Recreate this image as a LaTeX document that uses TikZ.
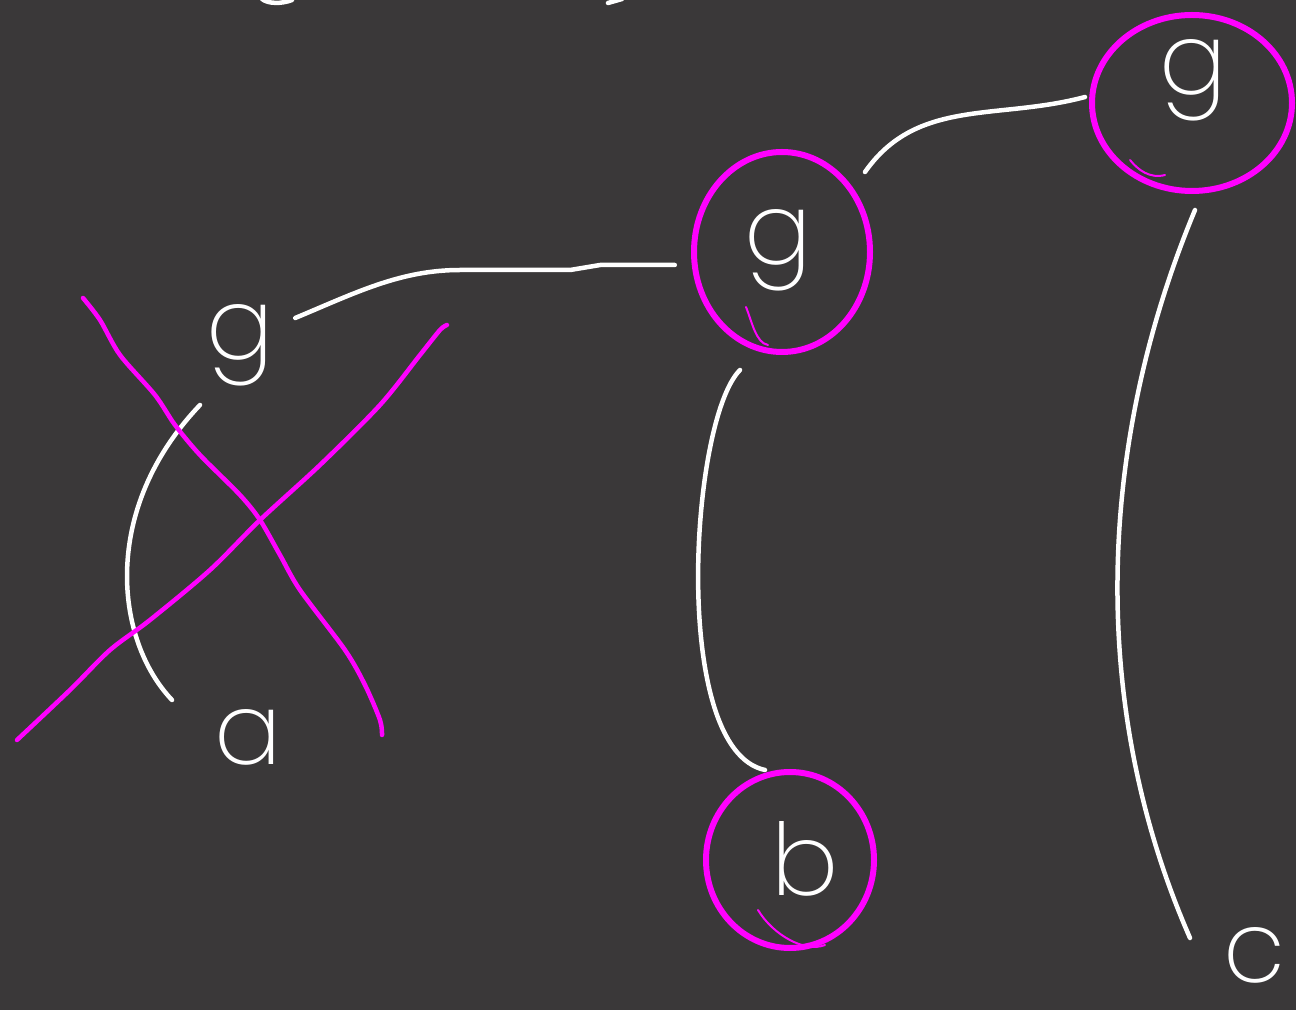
\documentclass[tikz,border=0pt]{standalone}
\usepackage{fontspec}
\setmainfont{Poppins}[UprightFont=* ExtraLight]
\usetikzlibrary{calc}
\definecolor{board}{HTML}{3A3839}
\definecolor{marker}{HTML}{FF00FF}
\tikzset{
  letter/.style={text=white, font=\fontsize{100}{100}\selectfont, inner sep=0pt,
    text height=60pt, text depth=20pt, minimum width=70pt},
  link/.style={draw=white, line width=4.5pt, line cap=round, line join=round},
  ring/.style={draw=marker, line width=6pt},
  hook/.style={draw=marker, line width=2pt, line cap=round},
  strike/.style={draw=marker, line width=4.5pt, line cap=round, line join=round},
}

\begin{document}
\begin{tikzpicture}[x=1pt, y=1pt]
  \fill[board] (0,0) rectangle (1296,1010);
  \useasboundingbox (0,0) rectangle (1296,1010);

  % letters
  \node[letter] (g1) at (240,670) {g};
  \node[letter] (g2) at (778,765) {g};
  \node[letter] (g3) at (1193,935) {g};
  \node[letter] (a) at (248,265) {a};
  \node[letter] (b) at (805,135) {b};
  \node[letter, text height=50pt, text depth=10pt] (c) at (1255,48) {c};

  % links
  \draw[link] ([shift={(20,22)}]g1.east) .. controls +(60,25) and +(-60,0) .. ++(165,48)
    -- ++(110,0) -- ++(30,5) -- ([shift={(-68,-20)}]g2.west);
  \draw[link] ([shift={(87,73)}]g2.center) to[out=55, in=195] ([shift={(-108,-22)}]g3.center);
  \draw[link] ([shift={(-38,-125)}]g2.center) .. controls +(-50,-50) and +(-95,20) .. ([shift={(-40,105)}]b.center);
  \draw[link] ([shift={(2,-135)}]g3.center) .. controls +(-100,-240) and +(-100,228) .. ([shift={(-65,24)}]c.center);
  \draw[link] ([shift={(-40,-65)}]g1.center) .. controls +(-100,-105) and +(-57,60) .. ([shift={(-76,45)}]a.center);

  % top edge scraps
  \draw[link] (262,1011) .. controls (268,1006) and (282,1006) .. (292,1010);
  \draw[link] (608,1007) -- (622,1011);

  % rings
  \draw[ring] ([shift={(4,-7)}]g2.center) ellipse [x radius=88, y radius=100];
  \draw[hook] ([shift={(-32,-62)}]g2.center) .. controls +(6,-15) and +(-12,2) .. ++(22,-38);
  \draw[ring] ([shift={(-1,-28)}]g3.center) ellipse [x radius=100, y radius=88];
  \draw[hook] ([shift={(-63,-85)}]g3.center) .. controls +(8,-10) and +(-15,-4) .. ++(35,-15);
  \draw[ring] ([shift={(-15,15)}]b.center) ellipse [x radius=84, y radius=88];
  \draw[hook] ([shift={(-47,-35)}]b.center) .. controls +(15,-25) and +(-20,-8) .. ++(67,-35);

  % cross out
  \draw[strike] plot[smooth] coordinates {(83,712) (100,690) (120,655) (155,615) (175,585)
    (200,555) (240,515) (260,490) (280,455) (300,420) (345,360) (365,325) (380,290) (382,275)};
  \draw[strike] plot[smooth] coordinates {(447,685) (440,680) (420,655) (380,605) (320,545)
    (260,490) (210,440) (150,390) (110,360) (70,320) (17,270)};
\end{tikzpicture}
\end{document}
